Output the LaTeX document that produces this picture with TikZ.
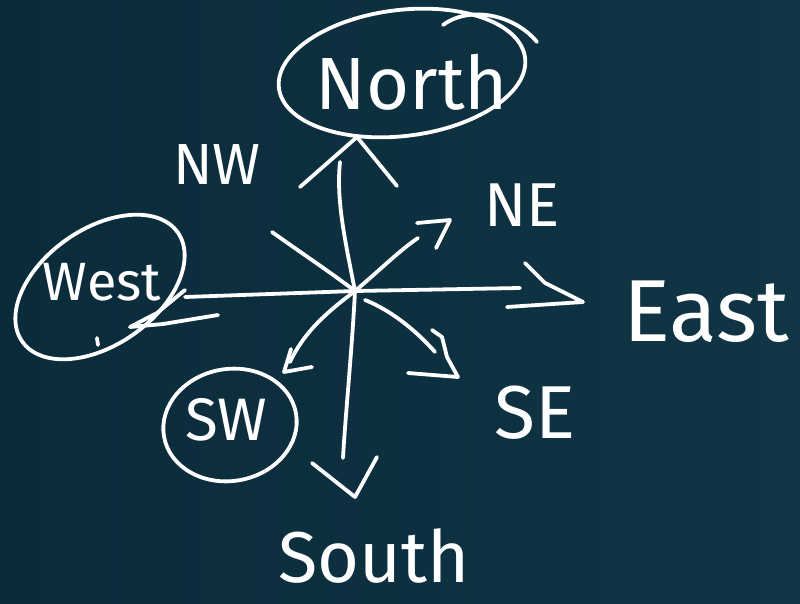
\documentclass[tikz,border=0pt]{standalone}
\usepackage{fontspec}
\setmainfont{Fira Sans}
\usetikzlibrary{shapes.geometric}
\definecolor{board}{HTML}{0A2B3A}
\definecolor{boardlight}{HTML}{103545}
\begin{document}
\begin{tikzpicture}[x=1pt,y=-1pt,
  chalk/.style={draw=white, line width=3.8pt, line cap=round, line join=round},
  lbl/.style={text=white, inner sep=0pt, anchor=center},
  ring/.style={chalk, ellipse, inner sep=0pt}]
\shade[left color=board, right color=boardlight] (0,0) rectangle (800,604);
\useasboundingbox (0,0) rectangle (800,604);

% centre and end points
\coordinate (C) at (355,291);
\coordinate (Ntop) at (340,162);
\coordinate (Ntip) at (357,137);
\coordinate (Nl) at (300,187);
\coordinate (Nr) at (397,186);
\coordinate (Sbot) at (343,458);
\coordinate (Sl) at (312,463);
\coordinate (Stip) at (355,497);
\coordinate (Sr) at (377,457);
\coordinate (Wend) at (185,297);
\coordinate (Eend) at (520,288);
\coordinate (Eu) at (525,263);
\coordinate (Eum) at (545,283);
\coordinate (Etip) at (583,302);
\coordinate (Ed) at (507,307);
\coordinate (NEend) at (418,238);
\coordinate (NEu) at (417,223);
\coordinate (NEtip) at (450,220);
\coordinate (NEd) at (436,248);
\coordinate (NWend) at (272,232);
\coordinate (SEstart) at (365,300);
\coordinate (SEend) at (435,352);
\coordinate (SEu) at (432,330);
\coordinate (SEtip) at (458,377);
\coordinate (SEd) at (408,373);
\coordinate (SWend) at (290,362);
\coordinate (SWu) at (291,349);
\coordinate (SWtip) at (284,372);
\coordinate (SWr) at (312,367);

% rings
\node[ring, minimum width=248pt, minimum height=126pt, rotate=7] (northring) at (402,73) {};
\node[ring, minimum width=190pt, minimum height=116pt, rotate=35] (westring) at (100,287) {};
\node[ring, minimum width=134pt, minimum height=112pt, rotate=10] (swring) at (230,425) {};

% extra ring strokes
\coordinate (nx1) at (443,25);
\coordinate (nx2) at (537,42);
\draw[chalk] (nx1) .. controls (470,5) and (515,15) .. (nx2);
\coordinate (w1) at (218,315);
\coordinate (w2) at (163,324);
\coordinate (w3) at (130,327);
\coordinate (w4) at (157,313);
\coordinate (w5) at (185,290);
\draw[chalk] (w1) -- (w2) -- (w3) -- (w4) -- (w5);
\coordinate (wd1) at (97,338);
\coordinate (wd2) at (98,345);
\draw[chalk] (wd1) -- (wd2);

% north / south shaft
\draw[chalk] (C) .. controls (345,240) and (336,200) .. (Ntop);
\draw[chalk] (Nl) -- (Ntip) -- (Nr);
\draw[chalk] (C) .. controls (352,350) and (345,420) .. (Sbot);
\draw[chalk] (Sl) -- (Stip) -- (Sr);

% west / east
\draw[chalk] (Wend) -- (C) -- (Eend);
\draw[chalk] (Eu) -- (Eum) -- (Etip) -- (Ed);

% diagonals
\draw[chalk] (C) .. controls (380,270) and (400,250) .. (NEend);
\draw[chalk] (NEu) -- (NEtip) -- (NEd);
\draw[chalk] (C) .. controls (330,272) and (300,252) .. (NWend);
\draw[chalk] (SEstart) .. controls (395,312) and (420,335) .. (SEend);
\draw[chalk] (SEu) -- (442,337) -- (447,357) -- (SEtip) -- (SEd);
\draw[chalk] (C) .. controls (330,310) and (305,330) .. (SWend);
\draw[chalk] (SWu) -- (SWtip) -- (SWr);

% labels
\node[lbl, font=\fontsize{74}{76}\selectfont] (north) at (412,82) {North};
\node[lbl, font=\fontsize{54}{56}\selectfont] (west) at (102,282) {West};
\node[lbl, font=\fontsize{88}{90}\selectfont] (east) at (706,312) {East};
\node[lbl, font=\fontsize{72}{74}\selectfont] (south) at (374,556) {South};
\node[lbl, font=\fontsize{58}{60}\selectfont] (nw) at (217,165) {NW};
\node[lbl, font=\fontsize{62}{64}\selectfont] (ne) at (522,205) {NE};
\node[lbl, font=\fontsize{75}{76}\selectfont] (se) at (535,413) {SE};
\node[lbl, font=\fontsize{60}{62}\selectfont] (sw) at (226,420) {SW};
\end{tikzpicture}
\end{document}
